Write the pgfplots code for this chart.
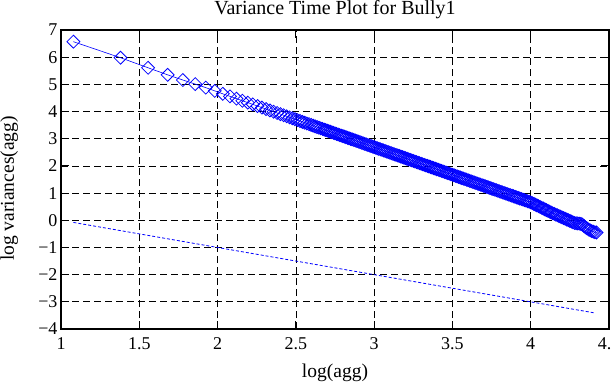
\documentclass[border=0pt]{standalone}
\usepackage{pgfplots}
\pgfplotsset{compat=1.18}
\usepackage{fontspec}
\setmainfont{Liberation Serif}
\definecolor{pblue}{RGB}{0,0,255}
\begin{document}
\begin{tikzpicture}
\begin{axis}[
  name=ax,
  scale only axis,
  width=548bp, height=299bp,
  xmin=1, xmax=4.5, ymin=-4, ymax=7,
  xtick={1,1.5,2,2.5,3,3.5,4,4.5},
  xticklabels={1,1.5,2,2.5,3,3.5,4,4.5},
  ytick={-4,-3,-2,-1,0,1,2,3,4,5,6,7},
  yticklabels={−4,−3,−2,−1,0,1,2,3,4,5,6,7},
  tick label style={font=\fontsize{18bp}{20bp}\selectfont},
  xticklabel style={yshift=-5bp},
  grid=major,
  major grid style={black, dash pattern=on 7bp off 4bp, line width=0.7bp},
  axis line style={black, line width=1.6bp},
  tick style={black, line width=0.9bp},
  major tick length=8bp,
  tick align=inside,
  title={Variance Time Plot for Bully1},
  every axis title/.style={font=\fontsize{20bp}{22bp}\selectfont, at={(axis description cs:0.5,1)}, yshift=15.5bp, anchor=base},
  xlabel={log(agg)},
  every axis x label/.style={font=\fontsize{19.5bp}{22bp}\selectfont, at={(axis description cs:0.5,0)}, yshift=-48bp, anchor=base},
  ylabel={log variances(agg)},
  every axis y label/.style={at={(axis description cs:0,0.5)}, xshift=-47bp, yshift=-9bp, rotate=90, anchor=base, font=\fontsize{19.5bp}{22bp}\selectfont},
  clip=false,
]
\addplot[pblue, line width=0.6bp, mark=square, mark size=4.6pt,
  mark options={rotate=45, solid, line width=0.8bp}] coordinates {
(1.0792,6.57) (1.3802,5.98) (1.5563,5.61) (1.6812,5.35) (1.7782,5.16) (1.8573,5.01) (1.9243,4.88) (1.9823,4.76)
(2.0334,4.652) (2.0792,4.559) (2.1206,4.475) (2.1584,4.398) (2.1931,4.328) (2.2253,4.263) (2.2553,4.202) (2.2833,4.145)
(2.3096,4.092) (2.3345,4.041) (2.3579,3.994) (2.3802,3.948) (2.4014,3.905) (2.4216,3.864) (2.4409,3.825) (2.4594,3.787)
(2.4771,3.752) (2.4942,3.717) (2.5105,3.684) (2.5263,3.652) (2.5416,3.621) (2.5563,3.591) (2.5705,3.562) (2.5843,3.534)
(2.5977,3.507) (2.6107,3.480) (2.6232,3.455) (2.6355,3.430) (2.6474,3.406) (2.6590,3.382) (2.6702,3.360) (2.6812,3.337)
(2.69,3.319) (2.70,3.299) (2.71,3.279) (2.72,3.258) (2.73,3.238) (2.74,3.218) (2.75,3.197) (2.76,3.177) (2.77,3.157) (2.78,3.137)
(2.79,3.116) (2.80,3.096) (2.81,3.076) (2.82,3.055) (2.83,3.035) (2.84,3.015) (2.85,2.995) (2.86,2.974) (2.87,2.954) (2.88,2.934)
(2.89,2.913) (2.90,2.893) (2.91,2.873) (2.92,2.852) (2.93,2.832) (2.94,2.812) (2.95,2.792) (2.96,2.771) (2.97,2.751) (2.98,2.731)
(2.99,2.710) (3.00,2.690) (3.01,2.670) (3.02,2.649) (3.03,2.629) (3.04,2.609) (3.05,2.589) (3.06,2.568) (3.07,2.548) (3.08,2.528)
(3.09,2.507) (3.10,2.487) (3.11,2.467) (3.12,2.446) (3.13,2.426) (3.14,2.406) (3.15,2.386) (3.16,2.365) (3.17,2.345) (3.18,2.325)
(3.19,2.304) (3.20,2.284) (3.21,2.264) (3.22,2.243) (3.23,2.223) (3.24,2.203) (3.25,2.183) (3.26,2.162) (3.27,2.142) (3.28,2.122)
(3.29,2.101) (3.30,2.081) (3.31,2.061) (3.32,2.040) (3.33,2.020) (3.34,2.000) (3.35,1.980) (3.36,1.959) (3.37,1.939) (3.38,1.919)
(3.39,1.898) (3.40,1.878) (3.41,1.858) (3.42,1.837) (3.43,1.817) (3.44,1.797) (3.45,1.777) (3.46,1.756) (3.47,1.736) (3.48,1.716)
(3.49,1.695) (3.50,1.675) (3.51,1.655) (3.52,1.634) (3.53,1.614) (3.54,1.594) (3.55,1.574) (3.56,1.553) (3.57,1.533) (3.58,1.513)
(3.59,1.492) (3.60,1.472) (3.61,1.452) (3.62,1.431) (3.63,1.411) (3.64,1.391) (3.65,1.371) (3.66,1.350) (3.67,1.330) (3.68,1.310)
(3.69,1.289) (3.70,1.269) (3.71,1.249) (3.72,1.228) (3.73,1.208) (3.74,1.188) (3.75,1.168) (3.76,1.147) (3.77,1.127) (3.78,1.107)
(3.79,1.086) (3.80,1.066) (3.81,1.046) (3.82,1.025) (3.83,1.005) (3.84,0.985) (3.85,0.965) (3.86,0.944) (3.87,0.924) (3.88,0.904)
(3.89,0.883) (3.90,0.863) (3.91,0.843) (3.92,0.822) (3.93,0.802) (3.94,0.782) (3.95,0.762) (3.96,0.741) (3.97,0.721) (3.98,0.701)
(3.99,0.680) (4.00,0.660) (4.01,0.632) (4.02,0.603) (4.03,0.575) (4.04,0.546) (4.05,0.518) (4.06,0.489) (4.07,0.461) (4.08,0.432)
(4.09,0.404) (4.10,0.375) (4.11,0.347) (4.12,0.318) (4.13,0.290) (4.14,0.261) (4.15,0.235) (4.16,0.209) (4.17,0.184) (4.18,0.158)
(4.19,0.132) (4.20,0.106) (4.21,0.081) (4.22,0.055) (4.23,0.029) (4.24,0.003) (4.25,-0.022) (4.26,-0.048) (4.27,-0.074) (4.28,-0.100)
(4.29,-0.108) (4.30,-0.115) (4.31,-0.122) (4.32,-0.13) (4.33,-0.16) (4.34,-0.21) (4.35,-0.26) (4.36,-0.30) (4.37,-0.34) (4.38,-0.37)
(4.39,-0.40) (4.40,-0.42) (4.41,-0.44) (4.42,-0.45)
};
\addplot[pblue, line width=0.8bp, dash pattern=on 3bp off 2bp, mark=none] coordinates {
(1.0792,-0.0792) (4.406,-3.406)
};
\end{axis}
\pgfresetboundingbox
\path ([xshift=-61bp,yshift=-56bp]ax.south west) rectangle ([xshift=2bp,yshift=30bp]ax.north east);
\end{tikzpicture}
\end{document}
